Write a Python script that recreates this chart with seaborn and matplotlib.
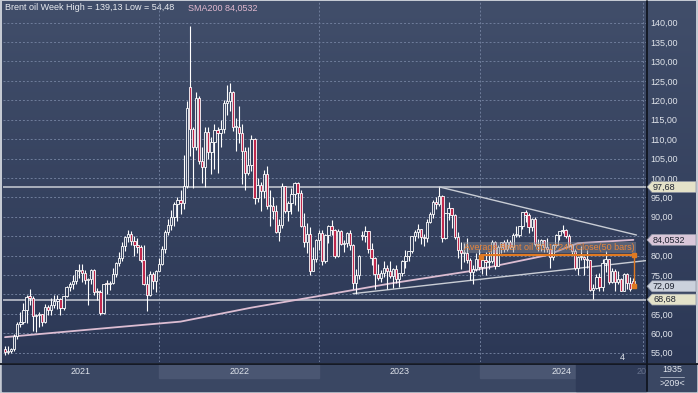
import numpy as np
import pandas as pd
import seaborn as sns
import matplotlib.pyplot as plt
from matplotlib.colors import LinearSegmentedColormap
from matplotlib.transforms import blended_transform_factory
from matplotlib.patches import Rectangle, Polygon

sns.set_style("white")
plt.rcParams["font.family"] = ["Liberation Sans", "DejaVu Sans"]

## Weekly Brent candles, mid Jan 2021 -> Dec 2024
opens = [
    # 2021
    55.9, 55.1, 55.4, 55.9, 59.3, 62.4, 62.9, 66.1, 69.4, 69.2,
    64.5, 64.6, 64.9, 63.0, 66.8, 66.1, 67.3, 68.3, 68.7, 66.4,
    69.6, 71.9, 72.7, 73.5, 76.0, 76.2, 75.6, 73.6, 74.1, 76.3,
    70.7, 70.6, 65.2, 72.7, 72.6, 72.9, 75.3, 78.1, 79.3, 82.4,
    84.9, 85.5, 83.7, 82.7, 82.2, 78.9, 72.7, 69.9, 75.2, 73.5,
    76.1,
    # 2022
    77.8, 81.8, 86.1, 87.9, 90.0, 93.3, 94.4, 93.5, 97.9, 123.4,
    112.7, 107.9, 120.7, 104.4, 102.8, 111.7, 106.7, 109.3, 112.4, 111.6,
    112.6, 119.4, 119.7, 122.0, 113.1, 113.1, 111.6, 107.0, 101.2, 103.2,
    110.0, 94.9, 98.2, 96.7, 101.0, 92.8, 92.8, 91.4, 86.2, 88.0,
    97.9, 91.6, 93.5, 95.8, 98.6, 96.0, 87.6, 83.6, 85.6, 76.1,
    79.0, 83.9,
    # 2023
    85.9, 78.6, 85.3, 87.6, 86.7, 79.9, 86.4, 83.0, 83.2, 85.8,
    82.8, 73.0, 75.0, 85.0, 85.1, 86.3, 81.7, 79.5, 75.3, 74.2,
    75.6, 76.9, 76.1, 74.8, 76.6, 73.9, 75.4, 78.5, 79.9, 81.1,
    85.0, 86.2, 86.8, 84.8, 84.5, 88.6, 90.7, 93.9, 93.3, 95.3,
    84.6, 90.9, 92.2, 90.5, 84.9, 81.4, 80.6, 80.6, 78.9, 75.8,
    76.6, 79.1,
    # 2024
    77.0, 78.8, 78.3, 78.6, 83.6, 77.3, 82.2, 83.5, 81.6, 83.6,
    82.1, 85.3, 85.4, 87.5, 91.2, 90.5, 87.3, 89.5, 83.0, 82.8,
    84.0, 82.1, 81.6, 79.6, 82.6, 85.2, 86.4, 86.5, 85.0, 82.6,
    81.1, 76.8, 79.7, 79.7, 79.0, 78.8, 71.1, 71.6, 74.5, 72.0,
    78.1, 79.0, 73.1, 76.1, 73.1, 73.9, 71.0, 75.2, 72.9, 73.5,
]
highs = [
    56.6, 56.7, 56.3, 59.8, 62.8, 65.5, 67.7, 69.8, 71.4, 69.5,
    65.0, 65.5, 65.0, 67.6, 67.4, 69.0, 69.8, 69.8, 69.0, 69.6,
    72.2, 73.1, 74.9, 76.4, 77.8, 77.8, 76.2, 74.2, 76.5, 76.6,
    71.6, 71.2, 72.8, 73.7, 73.5, 76.7, 78.3, 80.8, 83.5, 85.1,
    86.7, 86.4, 85.0, 84.6, 82.6, 82.8, 74.8, 76.0, 75.9, 76.4,
    79.5,
    82.5, 86.7, 89.5, 91.7, 93.7, 95.0, 96.8, 105.8, 119.8, 139.13,
    113.0, 122.0, 121.0, 108.0, 113.0, 113.2, 110.6, 114.0, 113.0, 115.0,
    120.0, 124.0, 124.4, 122.5, 115.5, 118.5, 114.0, 108.0, 108.0, 111.0,
    110.3, 100.0, 99.0, 102.0, 103.0, 97.0, 95.0, 93.0, 89.5, 98.8,
    98.0, 94.0, 97.5, 99.0, 99.0, 96.8, 91.0, 88.3, 87.4, 82.3,
    84.4, 86.6,
    86.5, 85.5, 88.0, 89.1, 86.9, 86.9, 86.6, 84.0, 86.0, 86.7,
    83.1, 76.5, 80.2, 86.4, 87.5, 86.4, 83.3, 79.6, 77.8, 76.4,
    78.5, 77.5, 78.7, 76.9, 77.5, 75.5, 78.8, 81.4, 81.1, 85.0,
    86.6, 88.1, 86.9, 85.5, 89.3, 91.2, 94.4, 95.0, 97.68, 95.5,
    91.0, 93.8, 92.3, 90.6, 86.2, 83.5, 83.3, 84.5, 79.4, 77.5,
    80.6, 81.7,
    79.4, 80.8, 80.8, 84.0, 83.8, 82.6, 83.6, 84.0, 84.3, 84.0,
    85.7, 87.7, 87.5, 91.2, 91.8, 91.0, 89.6, 89.9, 84.4, 84.2,
    84.0, 84.5, 81.7, 83.0, 85.6, 86.1, 87.9, 86.8, 85.6, 83.0,
    81.8, 79.8, 82.4, 80.0, 81.5, 78.9, 72.7, 75.3, 75.6, 79.0,
    81.2, 79.2, 76.7, 76.6, 76.1, 74.2, 75.4, 75.4, 74.4, 74.2,
]
lows = [
    54.48, 54.6, 54.8, 55.5, 58.5, 61.5, 62.5, 62.6, 67.3, 60.6,
    60.3, 61.5, 61.9, 62.6, 64.6, 64.6, 66.4, 66.2, 64.6, 66.0,
    69.4, 70.8, 71.4, 72.8, 74.3, 73.2, 72.8, 67.4, 72.6, 69.9,
    68.6, 64.6, 65.0, 70.1, 71.1, 72.7, 74.6, 77.3, 78.5, 81.3,
    83.6, 82.7, 79.8, 80.6, 78.3, 72.4, 65.7, 69.5, 71.4, 70.7,
    76.0,
    77.5, 80.7, 85.3, 86.6, 87.5, 88.9, 90.8, 92.1, 97.5, 105.6,
    97.4, 107.3, 103.7, 98.6, 97.6, 104.9, 101.0, 102.3, 101.3, 108.0,
    111.5, 116.3, 117.2, 112.0, 107.0, 109.0, 98.5, 96.9, 100.7, 101.9,
    93.2, 93.8, 91.5, 94.8, 92.0, 87.5, 89.5, 85.9, 83.7, 87.0,
    91.0, 89.0, 90.6, 92.9, 91.5, 87.3, 82.3, 80.6, 75.1, 76.0,
    78.3, 81.5,
    77.6, 78.0, 83.3, 85.4, 79.5, 79.7, 82.7, 80.8, 82.1, 81.4,
    71.4, 70.1, 74.0, 83.9, 83.6, 80.7, 77.5, 71.4, 73.7, 73.2,
    74.4, 71.5, 74.2, 71.6, 72.9, 71.9, 74.8, 76.8, 78.6, 80.6,
    83.8, 84.5, 82.9, 82.4, 83.6, 88.4, 89.6, 91.9, 92.8, 83.5,
    84.3, 89.1, 87.1, 84.4, 79.3, 76.6, 78.4, 78.0, 73.8, 72.8,
    76.1, 76.3,
    75.3, 75.1, 76.6, 78.0, 76.6, 77.2, 80.7, 80.9, 81.1, 81.6,
    81.0, 84.7, 84.7, 86.9, 88.7, 85.7, 86.3, 82.4, 81.3, 81.1,
    80.9, 81.0, 76.8, 78.9, 82.3, 84.0, 85.8, 84.5, 82.3, 80.2,
    76.3, 75.1, 78.8, 75.1, 76.8, 71.0, 68.7, 71.3, 70.9, 70.9,
    75.9, 72.7, 73.0, 71.0, 72.7, 70.8, 71.0, 71.5, 71.0, 71.6,
]
closes = [
    55.1, 55.4, 55.9, 59.3, 62.4, 62.9, 66.1, 69.4, 69.2, 64.5,
    64.6, 64.9, 63.0, 66.8, 66.1, 67.3, 68.3, 68.7, 66.4, 69.6,
    71.9, 72.7, 73.5, 76.2, 76.2, 75.6, 73.6, 74.1, 76.3, 70.7,
    70.6, 65.2, 72.7, 72.6, 72.9, 75.3, 78.1, 79.3, 82.4, 84.9,
    85.5, 83.7, 82.7, 82.2, 78.9, 72.7, 69.9, 75.2, 73.5, 76.1,
    77.8,
    81.8, 86.1, 87.9, 90.0, 93.3, 94.4, 93.5, 97.9, 118.1, 112.7,
    107.9, 120.7, 104.4, 102.8, 111.7, 106.7, 109.3, 112.4, 111.6, 112.6,
    119.4, 119.7, 122.0, 113.1, 113.1, 111.6, 107.0, 101.2, 103.2, 110.0,
    94.9, 98.2, 96.7, 101.0, 92.8, 92.8, 91.4, 86.2, 88.0, 97.9,
    91.6, 93.5, 95.8, 98.6, 96.0, 87.6, 83.6, 85.6, 76.1, 79.0,
    83.9, 85.9,
    78.6, 85.3, 87.6, 86.7, 79.9, 86.4, 83.0, 83.2, 85.8, 82.8,
    73.0, 75.0, 79.8, 85.1, 86.3, 81.7, 79.5, 75.3, 74.2, 75.6,
    76.9, 76.1, 74.8, 76.6, 73.9, 75.4, 78.5, 79.9, 81.1, 85.0,
    86.2, 86.8, 84.8, 84.5, 88.6, 90.7, 93.9, 93.3, 95.3, 84.6,
    90.9, 92.2, 90.5, 84.9, 81.4, 80.6, 80.6, 78.9, 75.8, 76.6,
    79.1, 77.0,
    78.8, 78.3, 78.6, 83.6, 77.3, 82.2, 83.5, 81.6, 83.6, 82.1,
    85.3, 85.4, 87.5, 91.2, 90.5, 87.3, 89.5, 83.0, 82.8, 84.0,
    82.1, 81.6, 79.6, 82.6, 85.2, 86.4, 86.5, 85.0, 82.6, 81.1,
    76.8, 79.7, 79.7, 79.0, 78.8, 71.1, 71.6, 74.5, 72.0, 78.1,
    79.0, 73.1, 76.1, 73.1, 73.9, 71.0, 75.2, 72.9, 71.5, 72.09,
]

# SMA200 line, sampled off the chart (week index -> value)
sma_week = [0, 31, 57, 80, 102, 125, 151, 176, 186, 204]
sma_value = [59.0, 61.2, 63.0, 66.6, 69.6, 72.8, 76.0, 80.1, 83.2, 84.05]

# drawn trendlines (week index, price)
down_line = [(141, 97.68), (205, 85.3)]
up_line = [(113, 70.2), (208, 78.7)]
h_levels = [97.68, 68.68]
avg_50 = 80.17240
last_close = 72.09

year_labels = ["2021", "2022", "2023", "2024"]
year_start = [50, 102, 154.2, 207.1]

# scale levels hidden behind the price tags
hidden_ticks = [70, 85]
price_tags = [("97,68", 97.68, "#e4e2c9"), ("84,0532", 84.0532, "#d9c7d9"),
              ("72,09", 72.09, "#cbd1dc"), ("68,68", 68.68, "#e4e2c9")]

df = pd.DataFrame({"open": opens, "high": highs, "low": lows, "close": closes})
df["week"] = np.arange(len(df))
up = df["close"] >= df["open"]

XMIN, XMAX = -0.65, 208.1
YMIN, YMAX = 52.6, 145.3

fig = plt.figure(figsize=(6.98, 3.93), dpi=100, facecolor="#c5cad3")

# background panel in pixel coords
bg = fig.add_axes([0, 0, 1, 1])
grad = np.linspace(0, 1, 256).reshape(-1, 1)
cmap = LinearSegmentedColormap.from_list("bgc", ["#414e6a", "#2c3856"])
bg.imshow(grad, extent=(2, 696, 363, 1), aspect="auto", cmap=cmap, origin="upper")
bg.add_patch(Rectangle((2, 364), 694, 27, color="#3a4763"))
bg.add_patch(Rectangle((159, 364), 160, 14, color="#4a5672"))
bg.add_patch(Rectangle((480, 364), 96, 14, color="#4a5672"))
bg.add_patch(Rectangle((576, 364), 70, 27, color="#2f3b58"))
bg.plot([0, 698], [363.5, 363.5], color="#101520", lw=1.3)
bg.plot([646.5, 646.5], [1, 391], color="#101520", lw=1.3)
bg.plot([660, 684], [377, 377], color="#aab2c2", lw=0.6)
bg.text(672, 370, "1935", ha="center", va="center", fontsize=6.5, color="#e3e7ee")
bg.text(672, 384, ">209<", ha="center", va="center", fontsize=6.5, color="#e3e7ee")
bg.text(5, 8, "Brent oil Week High = 139,13 Low = 54,48", va="center", fontsize=6.5, color="#e8ebf0")
bg.text(188, 8, "SMA200 84,0532", va="center", fontsize=6.5, color="#e2b9cf")
bg.text(622, 357, "4", ha="center", va="center", fontsize=6.5, color="#dfe3ea")
bg.text(637, 371, "20", ha="left", va="center", fontsize=6.5, color="#66718c")
bg.set_xlim(0, 698)
bg.set_ylim(393, 0)
bg.axis("off")

# main chart
ax = fig.add_axes([3 / 698, 1 - 362 / 393, 643 / 698, 360 / 393])
ax.patch.set_visible(False)
for s in ax.spines.values():
    s.set_visible(False)

levels = list(range(55, 145, 5))
ax.set_yticks(levels)
ax.set_yticklabels(["" if v in hidden_ticks else f"{v},00" for v in levels])
ax.yaxis.tick_right()
ax.tick_params(axis="y", length=0, pad=3, labelsize=6.5, labelcolor="#dfe3ea")
ax.set_xticks([])
ax.grid(axis="y", ls=(0, (2, 2)), color="#6f7d9b", lw=0.7)
for xs in year_start:
    ax.axvline(xs, ls=(0, (2, 2)), color="#6f7d9b", lw=0.7, zorder=1)

for lv in h_levels:
    ax.axhline(lv, color="#c9cdd5", lw=1.1, zorder=2)

# SMA200
sns.lineplot(x=sma_week, y=sma_value, ax=ax, color="#dcbdd2", lw=1.3, zorder=2)

# trendlines
ax.plot([p[0] for p in down_line], [p[1] for p in down_line], color="#c9cdd5", lw=1.0, zorder=2)
ax.plot([p[0] for p in up_line], [p[1] for p in up_line], color="#c9cdd5", lw=1.0, zorder=2)

# candles
ax.vlines(df["week"], df["low"], df["high"], color="white", lw=0.8, zorder=3)
body_lo = df[["open", "close"]].min(axis=1)
body_h = (df["close"] - df["open"]).abs().clip(lower=0.3)
ax.bar(df["week"], body_h, bottom=body_lo, width=0.75,
       color=np.where(up, "#34405d", "#c0284c"), edgecolor="white", linewidth=0.6, zorder=4)

# 50-bar average tool
n = len(df)
ax.plot([n - 50 - 0.5, n - 0.7], [avg_50, avg_50], color="#e07a22", lw=1.6, zorder=5)
ax.plot([n - 0.7, n - 0.7], [avg_50, last_close], color="#e07a22", lw=1.0, zorder=5)
ax.plot([n - 50 - 0.5, n - 0.7, n - 0.7], [avg_50 - 0.5, avg_50, last_close],
        ls="none", marker="s", ms=3.5, color="#e07a22", zorder=6)
ax.text(n - 56, avg_50 + 1.9, "Average Brent oil 80,17240 Close(50 bars)", fontsize=6.5,
        color="#e8843a", va="center", ha="left", zorder=6,
        bbox=dict(boxstyle="square,pad=0.15", fc="#8a8c96", ec="none", alpha=0.45))

# year labels in the bottom band
xb = blended_transform_factory(ax.transData, bg.transData)
edges = [XMIN] + year_start
for lab, a, b in zip(year_labels, edges[:-1], edges[1:]):
    bg.text((a + b) / 2, 371, lab, transform=xb, ha="center", va="center",
            fontsize=6.5, color="#dde2ea")

# price tags on the right scale
tr = blended_transform_factory(ax.transAxes, ax.transData)
px = 1 / 643
hh = 5.5 / 3.883
for txt, val, col in price_tags:
    ax.add_patch(Polygon([(1 + 1 * px, val), (1 + 6 * px, val + hh), (1 + 50 * px, val + hh),
                          (1 + 50 * px, val - hh), (1 + 6 * px, val - hh)],
                         closed=True, transform=tr, fc=col, ec="#8d93a3", lw=0.5,
                         clip_on=False, zorder=10))
    ax.text(1 + 7 * px, val, txt, transform=tr, ha="left", va="center", fontsize=6.5,
            color="#1d2230", zorder=11, clip_on=False)

ax.set_xlim(XMIN, XMAX)
ax.set_ylim(YMIN, YMAX)

fig.savefig("out.png", dpi=100, facecolor=fig.get_facecolor())
